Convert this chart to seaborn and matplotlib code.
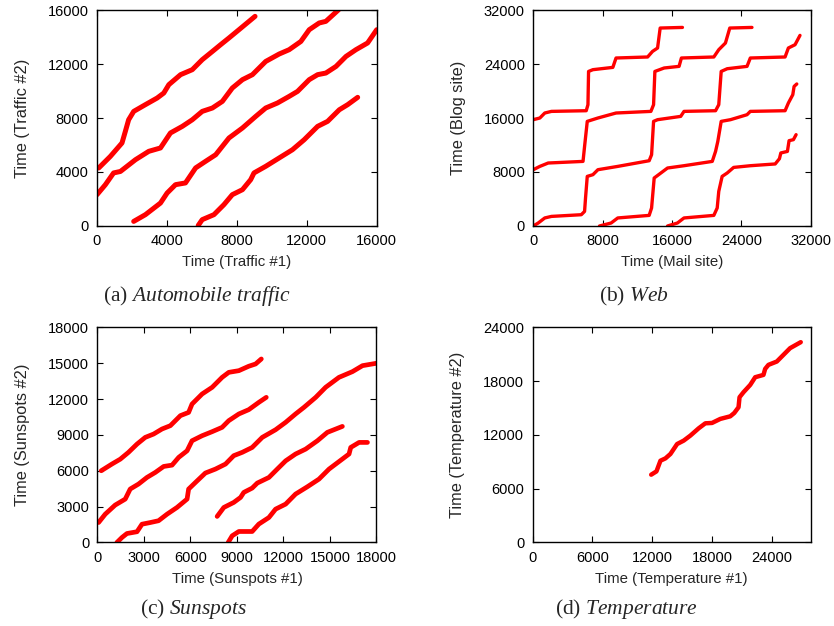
import matplotlib
matplotlib.use("Agg")
import matplotlib.pyplot as plt
import seaborn as sns
import pandas as pd

# ---------------- (a) Automobile traffic ----------------
traffic_x1 = [100, 760, 1430, 1620, 1810, 2100, 2770, 3440, 3820, 4110, 4780, 5450, 6020, 6600, 7070, 7550, 8120, 9040]
traffic_y1 = [4300, 5150, 6150, 7000, 7870, 8490, 8990, 9480, 9850, 10470, 11210, 11580, 12320, 12930, 13430, 13930, 14540, 15530]
traffic_x2 = [0, 480, 950, 1340, 2200, 2960, 3630, 4200, 4880, 5450, 6020, 6600, 7170, 7740, 8320, 8890, 9650, 10420, 10990, 11660, 12140, 12710, 13090, 13820]
traffic_y2 = [2320, 3060, 3930, 4040, 4910, 5530, 5780, 6890, 7380, 7870, 8490, 8740, 9230, 10220, 10840, 11210, 12190, 12740, 13060, 13670, 14540, 15040, 15160, 16020]
traffic_x3 = [2100, 2770, 3630, 4010, 4490, 5060, 5640, 6210, 6790, 7550, 8320, 9080, 9650, 10320, 10990, 11470, 12140, 12620, 13090, 13670, 14240, 14810, 15480, 16000]
traffic_y3 = [340, 840, 1700, 2440, 3060, 3190, 4300, 4790, 5280, 6520, 7260, 8120, 8740, 9110, 9600, 9970, 10840, 11210, 11330, 11820, 12560, 13060, 13560, 14540]
traffic_x4 = [5790, 6020, 6690, 7260, 7740, 8320, 8790, 8980, 9650, 10420, 11180, 11850, 12620, 13190, 13860, 14340, 14910]
traffic_y4 = [40, 470, 840, 1580, 2320, 2690, 3430, 3930, 4420, 5040, 5650, 6390, 7380, 7750, 8610, 8990, 9530]

# ---------------- (b) Web ----------------
web_x1 = [0, 760, 1330, 2100, 6110, 6310, 6380, 6880, 9180, 9550, 13190, 13760, 14340, 14640, 17210]
web_y1 = [15750, 16000, 16740, 16980, 17080, 17970, 22900, 23160, 23500, 24890, 25040, 25870, 26370, 29330, 29420]
web_x2 = [0, 760, 1720, 5740, 5920, 6230, 7460, 9550, 13570, 13880, 14030, 15100, 16820, 17090, 20830, 21400, 22170, 22670, 25230]
web_y2 = [8340, 8830, 9330, 9570, 11790, 15500, 16000, 16740, 16980, 17970, 22900, 23410, 23650, 24890, 25040, 26120, 27110, 29330, 29420]
web_x3 = [0, 570, 1330, 2100, 5540, 5920, 6030, 6230, 6880, 7460, 9750, 13370, 13650, 13880, 14340, 17010, 17390, 21030, 21400, 21680, 22370, 24660, 25040, 29050, 29430, 30200, 30770]
web_y3 = [0, 440, 1190, 1420, 1670, 2160, 4150, 7350, 7600, 8340, 8830, 9670, 10560, 15500, 15750, 16240, 16980, 17080, 17970, 22900, 23300, 23650, 24890, 25040, 26370, 26860, 28240]
web_x4 = [7640, 8980, 9750, 13370, 13650, 13950, 14720, 15490, 17390, 20650, 21030, 21290, 21680, 22750, 24660, 25040, 29050, 29430, 29940, 30090, 30400]
web_y4 = [0, 440, 1190, 1570, 2670, 7110, 7850, 8590, 8930, 9570, 11050, 12530, 15500, 15750, 16490, 16980, 17080, 18220, 19450, 20680, 21040]
web_x5 = [15490, 16630, 17390, 20830, 21220, 21400, 21790, 22370, 23120, 25040, 27910, 28400, 28560, 29320, 29510, 30010, 30320]
web_y5 = [0, 440, 1190, 1570, 2670, 5130, 7350, 7850, 8680, 8930, 9190, 9970, 10820, 11050, 12640, 12790, 13530]

# ---------------- (c) Sunspots ----------------
sun_x1 = [240, 930, 1470, 2000, 2550, 3080, 3620, 4160, 4700, 5350, 5880, 6100, 6750, 7400, 8040, 8470, 9120, 9760, 10200, 10570]
sun_y1 = [6000, 6560, 6970, 7540, 8230, 8790, 9070, 9490, 9770, 10610, 10880, 11580, 12420, 12980, 13810, 14230, 14370, 14740, 14930, 15350]
sun_x2 = [70, 500, 1140, 1790, 2110, 2650, 3190, 3730, 4270, 4810, 5240, 5780, 6100, 6750, 7400, 8040, 8470, 9120, 9760, 10410, 10890]
sun_y2 = [1670, 2370, 3130, 3630, 4470, 4890, 5440, 5860, 6360, 6470, 7120, 7670, 8510, 8930, 9270, 9630, 10190, 10750, 11110, 11720, 12140]
sun_x3 = [1250, 1580, 1900, 2550, 2870, 3410, 3940, 4490, 5130, 5780, 5880, 6320, 6960, 7610, 8260, 8790, 9340, 9980, 10630, 11490, 12140, 12780, 13320, 14080, 14720, 15580, 16450, 17100, 18000]
sun_y3 = [0, 420, 750, 900, 1530, 1670, 1820, 2370, 2930, 3630, 4470, 5020, 5810, 6140, 6560, 7260, 7540, 7950, 8790, 9430, 10050, 10750, 11300, 12140, 12980, 13810, 14290, 14790, 14990]
sun_x4 = [7720, 8150, 8790, 9230, 9440, 9980, 10310, 11060, 11600, 12140, 12780, 13430, 14190, 14830, 15800]
sun_y4 = [2180, 2930, 3350, 3770, 4190, 4550, 4970, 5440, 6140, 6830, 7400, 7810, 8510, 9210, 9710]
sun_x5 = [8430, 8690, 9120, 9980, 10410, 11060, 11490, 12140, 12780, 13540, 14290, 14940, 15800, 16230, 16340, 16880, 17420]
sun_y5 = [0, 560, 920, 920, 1540, 2090, 2790, 3210, 4050, 4660, 5300, 6140, 6980, 7400, 7950, 8370, 8370]

# ---------------- (d) Temperature ----------------
temp_x1 = [11900, 12430, 12830, 13330, 13830, 14500, 15160, 15830, 16660, 17330, 18000, 18830, 19830, 20230, 20660, 20760, 21160, 21830, 22330, 23160, 23330, 23660, 24500, 25160, 25830, 26900]
temp_y1 = [7560, 7930, 9120, 9380, 9870, 10980, 11360, 11920, 12730, 13290, 13330, 13780, 14070, 14440, 15080, 16200, 16760, 17570, 18430, 18690, 19360, 19810, 20180, 20920, 21670, 22340]

# Tick labels / axes
traffic_ticks = [0, 4000, 8000, 12000, 16000]
web_ticks = [0, 8000, 16000, 24000, 32000]
sun_ticks = [0, 3000, 6000, 9000, 12000, 15000, 18000]
temp_xticks = [0, 6000, 12000, 18000, 24000]
temp_yticks = [0, 6000, 12000, 18000, 24000]


def make_df(paths):
    frames = []
    for i, (xs, ys) in enumerate(paths):
        frames.append(pd.DataFrame({"x": xs, "y": ys, "path": i}))
    return pd.concat(frames, ignore_index=True)


sns.set_style("ticks")
plt.rcParams["font.family"] = ["Liberation Sans", "DejaVu Sans"]
plt.rcParams["mathtext.fontset"] = "custom"
plt.rcParams["mathtext.rm"] = "Liberation Serif"
plt.rcParams["mathtext.it"] = "Liberation Serif:italic"

fig = plt.figure(figsize=(8.34, 6.26), dpi=100)

panels = [
    dict(rect=[0.1163, 0.6390, 0.3354, 0.3450],
         paths=[(traffic_x1, traffic_y1), (traffic_x2, traffic_y2), (traffic_x3, traffic_y3), (traffic_x4, traffic_y4)],
         xlim=(0, 16000), ylim=(0, 16000), xticks=traffic_ticks, yticks=traffic_ticks,
         xlabel="Time (Traffic #1)", ylabel="Time (Traffic #2)", lw=3.6),
    dict(rect=[0.6394, 0.6390, 0.3326, 0.3450],
         paths=[(web_x1, web_y1), (web_x2, web_y2), (web_x3, web_y3), (web_x4, web_y4), (web_x5, web_y5)],
         xlim=(0, 32000), ylim=(0, 32000), xticks=web_ticks, yticks=web_ticks,
         xlabel="Time (Mail site)", ylabel="Time (Blog site)", lw=2.4),
    dict(rect=[0.1169, 0.1334, 0.3345, 0.3438],
         paths=[(sun_x1, sun_y1), (sun_x2, sun_y2), (sun_x3, sun_y3), (sun_x4, sun_y4), (sun_x5, sun_y5)],
         xlim=(0, 18000), ylim=(0, 18000), xticks=sun_ticks, yticks=sun_ticks,
         xlabel="Time (Sunspots #1)", ylabel="Time (Sunspots #2)", lw=3.4),
    dict(rect=[0.6385, 0.1334, 0.3336, 0.3438],
         paths=[(temp_x1, temp_y1)],
         xlim=(0, 27900), ylim=(0, 24000), xticks=temp_xticks, yticks=temp_yticks,
         xlabel="Time (Temperature #1)", ylabel="Time (Temperature #2)", lw=3.2),
]

for p in panels:
    ax = fig.add_axes(p["rect"])
    df = make_df(p["paths"])
    sns.lineplot(data=df, x="x", y="y", units="path", estimator=None, sort=False,
                 color="#ff0000", lw=p["lw"], ax=ax, legend=False,
                 solid_capstyle="round", solid_joinstyle="round")
    ax.set_xlim(*p["xlim"])
    ax.set_ylim(*p["ylim"])
    ax.set_xticks(p["xticks"])
    ax.set_yticks(p["yticks"])
    ax.set_xticklabels([str(t) for t in p["xticks"]])
    ax.set_yticklabels([str(t) for t in p["yticks"]])
    ax.set_xlabel(p["xlabel"], fontsize=10.8, labelpad=5)
    ax.set_ylabel(p["ylabel"], fontsize=11.8, labelpad=13)
    ax.tick_params(direction="in", top=True, right=True, length=4, width=0.8,
                   labelsize=10.5, pad=6, colors="black")
    for s in ax.spines.values():
        s.set_visible(True)
        s.set_linewidth(1.0)
        s.set_color("black")

captions = [
    (197 / 834, 1 - 296 / 626, r"(a) $\mathit{Automobile\ traffic}$"),
    (634 / 834, 1 - 296 / 626, r"(b) $\mathit{Web}$"),
    (194 / 834, 1 - 609 / 626, r"(c) $\mathit{Sunspots}$"),
    (627 / 834, 1 - 609 / 626, r"(d) $\mathit{Temperature}$"),
]
for cx, cy, txt in captions:
    fig.text(cx, cy, txt, ha="center", va="center", fontsize=15.5,
             family="Liberation Serif")

fig.savefig("out.png", dpi=100)
